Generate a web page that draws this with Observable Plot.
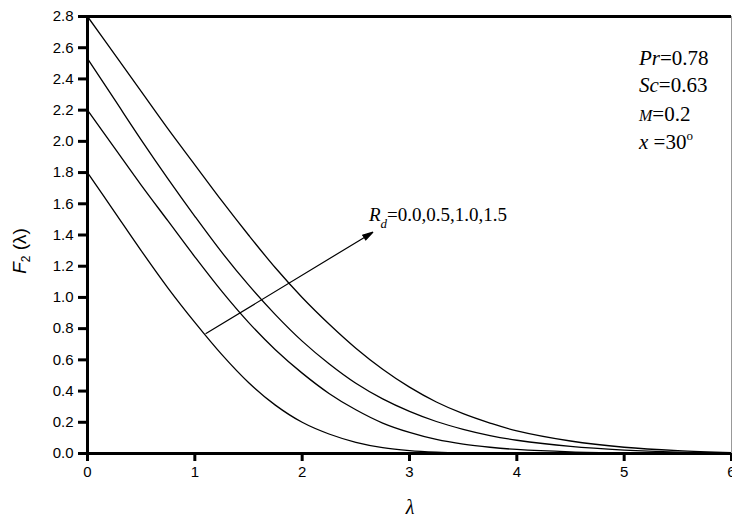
<!DOCTYPE html>
<html>
<head>
<meta charset="utf-8">
<script src="https://cdn.jsdelivr.net/npm/d3@7"></script>
<script src="https://cdn.jsdelivr.net/npm/@observablehq/plot@0.6"></script>
<style>
  body { margin: 0; background: #fff; }
  #chart svg { display: block; }
</style>
</head>
<body>
<div id="chart"></div>
<script>
// ---- data ----
const lambda = [0, 0.25, 0.5, 0.75, 1, 1.25, 1.5, 1.75, 2, 2.25, 2.5, 2.75, 3, 3.25, 3.5, 3.75, 4, 4.5, 5, 5.5, 6];
const rdValues = ["0.0", "0.5", "1.0", "1.5"];
const f2Rd00 = [1.80, 1.55, 1.30, 1.06, 0.84, 0.635, 0.455, 0.31, 0.20, 0.125, 0.072, 0.038, 0.019, 0.009, 0.004, 0.002, 0.001, 0, 0, 0, 0];
const f2Rd05 = [2.20, 1.96, 1.72, 1.49, 1.26, 1.04, 0.84, 0.665, 0.515, 0.385, 0.28, 0.195, 0.135, 0.09, 0.06, 0.04, 0.026, 0.011, 0.004, 0.001, 0];
const f2Rd10 = [2.53, 2.27, 2.01, 1.76, 1.52, 1.29, 1.08, 0.89, 0.72, 0.575, 0.45, 0.35, 0.27, 0.205, 0.155, 0.115, 0.085, 0.045, 0.022, 0.009, 0.003];
const f2Rd15 = [2.80, 2.56, 2.32, 2.08, 1.85, 1.62, 1.40, 1.19, 1.00, 0.83, 0.675, 0.54, 0.425, 0.33, 0.255, 0.195, 0.145, 0.08, 0.04, 0.018, 0.006];
const xTicks = [0, 1, 2, 3, 4, 5, 6];
const yTicks = [0, 0.2, 0.4, 0.6, 0.8, 1.0, 1.2, 1.4, 1.6, 1.8, 2.0, 2.2, 2.4, 2.6, 2.8];
const arrowFrom = [1.10, 0.767];
const arrowTo = [2.66, 1.418];

// ---- build table ----
const seriesList = [f2Rd00, f2Rd05, f2Rd10, f2Rd15];
const rows = [];
seriesList.forEach((vals, i) => {
  lambda.forEach((x, j) => rows.push({ rd: rdValues[i], x, y: vals[j] }));
});
const arrowData = [{ x1: arrowFrom[0], y1: arrowFrom[1], x2: arrowTo[0], y2: arrowTo[1] }];

const plot = Plot.plot({
  width: 732,
  height: 519,
  marginLeft: 87,
  marginRight: 1,
  marginTop: 16,
  marginBottom: 66,
  style: { fontFamily: "'Liberation Sans', Arial, sans-serif", fontSize: "15px", color: "#000", background: "#fff" },
  x: { domain: [0, 6] },
  y: { domain: [0, 2.8] },
  marks: [
    Plot.line(rows, { x: "x", y: "y", z: "rd", stroke: "#000", strokeWidth: 1.3, curve: "catmull-rom" }),
    Plot.arrow(arrowData, { x1: "x1", y1: "y1", x2: "x2", y2: "y2", stroke: "#000", fill: "#000", strokeWidth: 1.2, headLength: 14, headAngle: 30, strokeLinecap: "butt" }),
    Plot.ruleX([6], { stroke: "#999", strokeWidth: 1 }),
    Plot.ruleY([2.8], { stroke: "#000", strokeWidth: 3 }),
    Plot.ruleX([0], { stroke: "#000", strokeWidth: 3 }),
    Plot.ruleY([0], { stroke: "#000", strokeWidth: 3 }),
    Plot.axisX({ ticks: xTicks, tickSize: 8, tickPadding: 5, label: null, fontSize: 15, tickFormat: d3.format("d") }),
    Plot.axisY({ ticks: yTicks, tickSize: 9, tickPadding: 5, label: null, fontSize: 15, tickFormat: d3.format(".1f") })
  ]
});

document.getElementById("chart").appendChild(plot);

const svg = d3.select(plot);
// thicken the axis ticks
svg.selectAll('[aria-label*="axis"]').each(function () {
  d3.select(this).selectAll("path, line")
    .attr("stroke-width", 3)
    .style("stroke-width", "3px")
    .attr("stroke", "#000");
});

// ---- text annotations ----
const serif = "'Liberation Serif', 'Times New Roman', serif";
const sans = "'Liberation Sans', Arial, sans-serif";

// Y axis title  F2(λ)
const yl = svg.append("text")
  .attr("transform", "translate(26,251) rotate(-90)")
  .attr("text-anchor", "middle")
  .attr("font-family", sans)
  .attr("font-size", 19)
  .attr("fill", "#000");
yl.append("tspan").attr("font-style", "italic").text("F");
yl.append("tspan").attr("font-size", 12).attr("dy", 4).text("2");
yl.append("tspan").attr("dy", -4).text(" (λ)");

// X axis title λ
svg.append("text")
  .attr("x", 410).attr("y", 514)
  .attr("text-anchor", "middle")
  .attr("font-family", serif)
  .attr("font-style", "italic")
  .attr("font-size", 20)
  .attr("fill", "#000")
  .text("λ");

// parameters block
const params = [
  { it: "Pr", rest: "=0.78", y: 65 },
  { it: "Sc", rest: "=0.63", y: 92 },
  { it: "M", rest: "=0.2", y: 121, small: true },
  { it: "x", rest: " =30", y: 149, deg: true }
];
params.forEach(p => {
  const t = svg.append("text")
    .attr("x", 639).attr("y", p.y)
    .attr("text-anchor", "start")
    .attr("font-family", serif)
    .attr("font-size", 21)
    .attr("fill", "#000");
  const a = t.append("tspan").attr("font-style", "italic").text(p.it);
  if (p.small) a.attr("font-size", 16);
  t.append("tspan").text(p.rest);
  if (p.deg) t.append("tspan").attr("font-size", 13).attr("dy", -9).text("o");
});

// Rd label
const rd = svg.append("text")
  .attr("x", 369).attr("y", 221)
  .attr("text-anchor", "start")
  .attr("font-family", serif)
  .attr("font-size", 19)
  .attr("fill", "#000");
rd.append("tspan").attr("font-style", "italic").text("R");
rd.append("tspan").attr("font-style", "italic").attr("font-size", 13).attr("dy", 7).text("d");
rd.append("tspan").attr("dy", -7).text("=" + rdValues.join(","));
</script>
</body>
</html>
